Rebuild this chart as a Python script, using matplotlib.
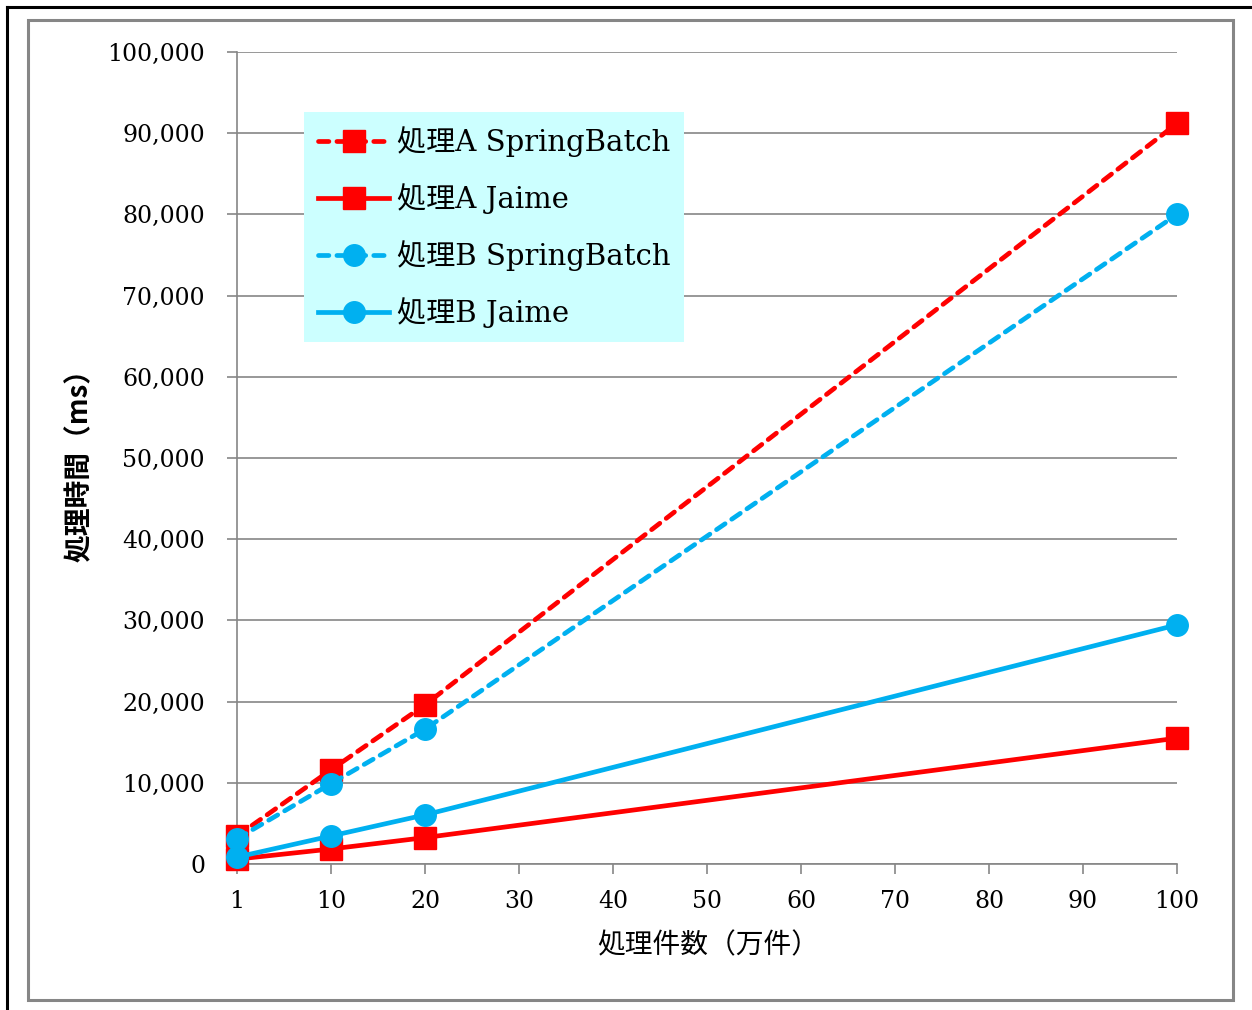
import numpy as np
import matplotlib
matplotlib.use("Agg")
import matplotlib.pyplot as plt
from matplotlib.lines import Line2D
from matplotlib.patches import Rectangle
from matplotlib.ticker import FuncFormatter

# ---- data ----
x_counts = [1, 10, 20, 100]
a_springbatch = [3450, 11600, 19600, 91200]
a_jaime = [600, 1850, 3250, 15500]
b_springbatch = [3100, 9900, 16600, 80000]
b_jaime = [850, 3450, 6050, 29450]
x_ticks = [1, 10, 20, 30, 40, 50, 60, 70, 80, 90, 100]
y_ticks = [0, 10000, 20000, 30000, 40000, 50000, 60000, 70000, 80000, 90000, 100000]
series_labels = ["処理A SpringBatch", "処理A Jaime", "処理B SpringBatch", "処理B Jaime"]
x_label = "処理件数（万件）"
y_label = "処理時間（ms）"

RED = "#FF0000"
BLUE = "#00B0F0"
GRID = "#868686"
SERIF = ["DejaVu Serif", "Noto Sans CJK JP"]
CJK = ["Noto Sans CJK JP", "DejaVu Sans"]

W, H = 1252, 1010
fig = plt.figure(figsize=(W / 100, H / 100), dpi=100)
ax = fig.add_axes([237 / W, 1 - 864 / H, (1177 - 237) / W, (864 - 52) / H])

# axis spacing: tick "1" sits at origin, then equal steps of 10
def fwd(x):
    x = np.asarray(x, dtype=float)
    return np.where(x < 10, (x - 1) * 10.0 / 9.0, x)

def inv(u):
    u = np.asarray(u, dtype=float)
    return np.where(u < 10, u * 0.9 + 1, u)

ax.set_xscale("function", functions=(fwd, inv))

lw = 3.4
dash = (2.2, 1.7)
common = dict(lw=lw, clip_on=False)
ax.plot(x_counts, a_springbatch, color=RED, ls=(0, dash), dash_capstyle="round",
        marker="s", ms=16, mec=RED, mfc=RED, label=series_labels[0], zorder=3, **common)
ax.plot(x_counts, a_jaime, color=RED, ls="-",
        marker="s", ms=16, mec=RED, mfc=RED, label=series_labels[1], zorder=3, **common)
ax.plot(x_counts, b_springbatch, color=BLUE, ls=(0, dash), dash_capstyle="round",
        marker="o", ms=15.5, mec=BLUE, mfc=BLUE, label=series_labels[2], zorder=4, **common)
ax.plot(x_counts, b_jaime, color=BLUE, ls="-",
        marker="o", ms=15.5, mec=BLUE, mfc=BLUE, label=series_labels[3], zorder=4, **common)

ax.set_xlim(1, 100)
ax.set_ylim(0, 100000)
ax.set_xticks(x_ticks)
ax.set_yticks(y_ticks)
ax.xaxis.set_major_formatter(FuncFormatter(lambda v, p: f"{int(round(v))}"))
ax.yaxis.set_major_formatter(FuncFormatter(lambda v, p: f"{int(v):,}"))
ax.minorticks_off()

ax.grid(axis="y", color=GRID, lw=1.2, zorder=0)
ax.set_axisbelow(True)
for s in ["top", "right"]:
    ax.spines[s].set_visible(False)
for s in ["left", "bottom"]:
    ax.spines[s].set_color(GRID)
    ax.spines[s].set_linewidth(1.2)

ax.tick_params(axis="y", direction="out", length=7, width=1.2, color=GRID, pad=16,
               labelsize=17)
ax.tick_params(axis="x", direction="out", length=7, width=1.2, color=GRID, pad=12,
               labelsize=17)
for lab in ax.get_xticklabels() + ax.get_yticklabels():
    lab.set_fontfamily(SERIF)

fig.text(708 / W, 1 - 945 / H, x_label, family=CJK, fontsize=20,
         ha="center", va="center")
fig.text(80 / W, 1 - 458 / H, y_label, family=CJK, fontsize=20, fontweight="bold",
         rotation=90, ha="center", va="center")

leg = ax.legend(loc="upper left", bbox_to_anchor=(304 / W, 1 - 112 / H),
                bbox_transform=fig.transFigure,
                prop={"family": SERIF, "size": 21},
                frameon=True, fancybox=False, facecolor="#CCFFFF", edgecolor="none",
                framealpha=1, handlelength=2.45, handletextpad=0.25, labelspacing=0.9,
                borderpad=0.48, borderaxespad=0, numpoints=1)
leg.set_zorder(5)

# outer borders
fig.add_artist(Line2D([7 / W, 7 / W], [0, 1 - 7 / H], color="black", lw=2.2,
                      transform=fig.transFigure))
fig.add_artist(Line2D([7 / W, 1], [1 - 7 / H, 1 - 7 / H], color="black", lw=2.2,
                      transform=fig.transFigure))
fig.add_artist(Rectangle((28 / W, 1 - 1000 / H), (1233 - 28) / W, (1000 - 20) / H,
                         fill=False, edgecolor=GRID, lw=2.2, transform=fig.transFigure))

fig.savefig("out.png", dpi=100)
